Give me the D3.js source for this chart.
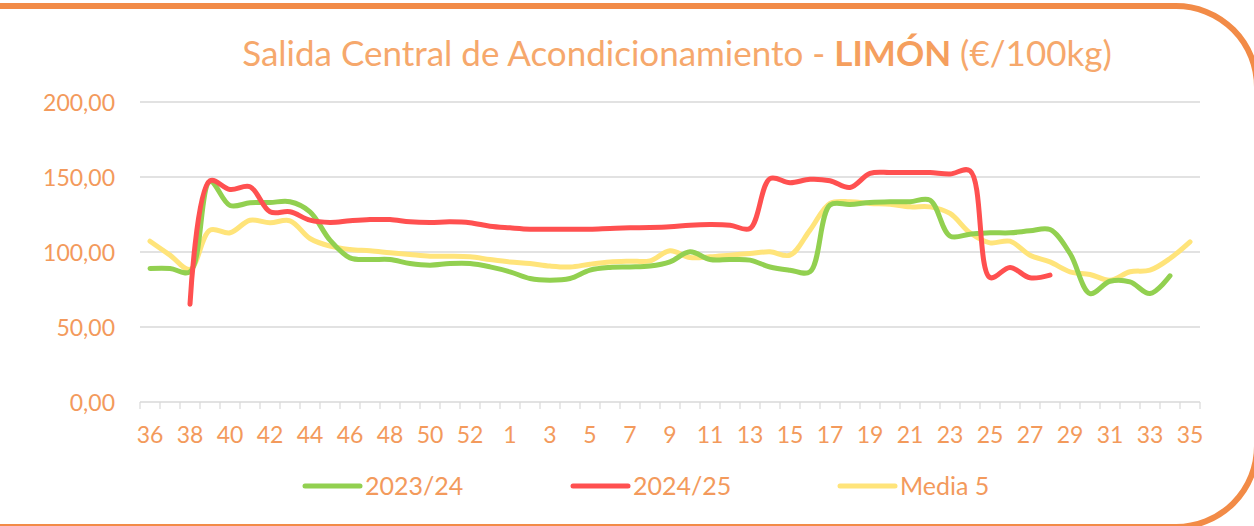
<!DOCTYPE html>
<html><head><meta charset="utf-8">
<script src="https://cdn.jsdelivr.net/npm/d3@7"></script>
<style>
body{margin:0;background:#fff;overflow:hidden}
svg{display:block}
text{font-family:Lato,"Open Sans",sans-serif}
</style>
</head><body>
<svg id="c" width="1254" height="526"></svg>
<script>
const weeks = ["36","37","38","39","40","41","42","43","44","45","46","47","48","49","50","51","52","53",
  "1","2","3","4","5","6","7","8","9","10","11","12","13","14","15","16","17","18","19","20",
  "21","22","23","24","25","26","27","28","29","30","31","32","33","34","35"];
const yTicks = [0, 50, 100, 150, 200];
const seriesNames = ["2023/24", "2024/25", "Media 5"];
const s2023 = [89.0,89.0,86.8,147,131,132.8,133,133.5,126.8,107.9,96.1,95,95,92.3,91.2,92.3,92.3,90.1,
  86.8,82.3,81.2,82.3,87.9,89.7,90,90.6,93.4,100.1,95,95,94.6,90,87.9,86.8,131.3,131.7,133,133.5,
  133.5,134.6,110.6,111.9,112.8,112.8,114.1,115,99,72.3,80.5,80.1,72.3,84.1,null];
const s2024 = [null,null,65.2,147.5,141.7,143.5,126.8,126.8,121.2,119.7,120.8,121.6,121.6,120.1,119.7,120.1,119.5,117.2,
  116.1,115.2,115.2,115.2,115.2,115.7,116.1,116.3,116.8,117.9,118.3,117.9,115.7,148.9,146.2,148.5,147.5,143,152.4,153,
  153,153,152,154.2,83,89.7,82.8,84.6,null,null,null,null,null,null,null];
const media5 = [107.2,97.9,88.4,114.6,112.8,121.2,119.5,120.8,109,103.9,101.7,100.8,99.5,98.3,97.2,97.2,96.8,95,
  93.4,92.3,90.6,90,91.9,93.4,93.9,94.1,100.8,96.3,96.8,97.9,99,100.1,97.9,114.6,132.4,133.5,132.4,131.9,
  130.1,130.1,125.7,112.8,106.1,107.2,97.9,93.4,86.8,85,81.2,86.8,87.9,95.7,106.8];
const colors = ["#92D050", "#FF5050", "#FFE47A"];

const svg = d3.select("#c");
const W = 1254, H = 526;
const m = {left: 140, right: 54, top: 102, bottom: 124};
const labelColor = "#F39A5C";

// frame
svg.append("path")
  .attr("d", "M-10,6 H1176 A81,81 0 0 1 1257,87 V446 A81,81 0 0 1 1176,527 H-10")
  .attr("fill", "none").attr("stroke", "#F28B47").attr("stroke-width", 6);

// title
const title = svg.append("text").attr("x", 677).attr("y", 66).attr("text-anchor", "middle")
  .attr("fill", "#F6A86C").style("font-size", "35px");
title.append("tspan").text("Salida Central de Acondicionamiento - ");
title.append("tspan").style("font-weight", "bold").attr("fill", "#F59F5E").text("LIMÓN");
title.append("tspan").text(" (€/100kg)");

const x = d3.scaleBand().domain(d3.range(weeks.length)).range([m.left, W - m.right]).padding(0);
const y = d3.scaleLinear().domain([0, 200]).range([H - m.bottom, m.top]);

const loc = d3.formatLocale({decimal: ",", thousands: ".", grouping: [3], currency: ["", "€"]});
const fmt = loc.format(".2f");

// gridlines
svg.append("g").selectAll("line").data(yTicks.filter(d => d > 0)).join("line")
  .attr("x1", m.left).attr("x2", W - m.right)
  .attr("y1", d => y(d)).attr("y2", d => y(d))
  .attr("stroke", "#D9D9D9").attr("stroke-width", 1.5);

// y axis
const ya = svg.append("g").attr("transform", `translate(${m.left - 25},0)`)
  .call(d3.axisLeft(y).tickValues(yTicks).tickFormat(fmt).tickSize(0).tickPadding(0));
ya.select(".domain").remove();
ya.selectAll("text").attr("fill", labelColor).style("font-size", "23px").attr("dy", "0.36em");

// x axis line and ticks
const axisY = y(0);
svg.append("line").attr("x1", m.left).attr("x2", W - m.right).attr("y1", axisY).attr("y2", axisY)
  .attr("stroke", "#D9D9D9").attr("stroke-width", 1.5);
const edges = d3.range(weeks.length + 1).map(i => i < weeks.length ? x(i) : x(weeks.length - 1) + x.bandwidth());
svg.append("g").selectAll("line").data(edges).join("line")
  .attr("x1", d => d).attr("x2", d => d).attr("y1", axisY).attr("y2", axisY + 7)
  .attr("stroke", "#D9D9D9").attr("stroke-width", 1.2);

const xa = svg.append("g").attr("transform", `translate(0,${axisY})`)
  .call(d3.axisBottom(x).tickValues(d3.range(0, weeks.length, 2)).tickFormat(i => weeks[i]).tickSize(0).tickPadding(25));
xa.select(".domain").remove();
xa.selectAll("text").attr("fill", labelColor).style("font-size", "23px");

// lines
const all = [s2023, s2024, media5];
const line = d3.line()
  .defined(d => d != null)
  .x((d, i) => x(i) + x.bandwidth() / 2)
  .y(d => y(d))
  .curve(d3.curveCatmullRom.alpha(0.5));
const order = [2, 0, 1];
order.forEach(k => {
  svg.append("path").datum(all[k]).attr("d", line)
    .attr("fill", "none").attr("stroke", colors[k]).attr("stroke-width", 5)
    .attr("stroke-linecap", "round").attr("stroke-linejoin", "round");
});

// legend
const legX = [305, 573, 840];
const lg = svg.append("g");
seriesNames.forEach((n, k) => {
  lg.append("line").attr("x1", legX[k]).attr("x2", legX[k] + 55).attr("y1", 486).attr("y2", 486)
    .attr("stroke", colors[k]).attr("stroke-width", 5).attr("stroke-linecap", "round");
  lg.append("text").attr("x", legX[k] + 60).attr("y", 495).attr("fill", labelColor)
    .style("font-size", "25px").text(n);
});
</script>
</body></html>
